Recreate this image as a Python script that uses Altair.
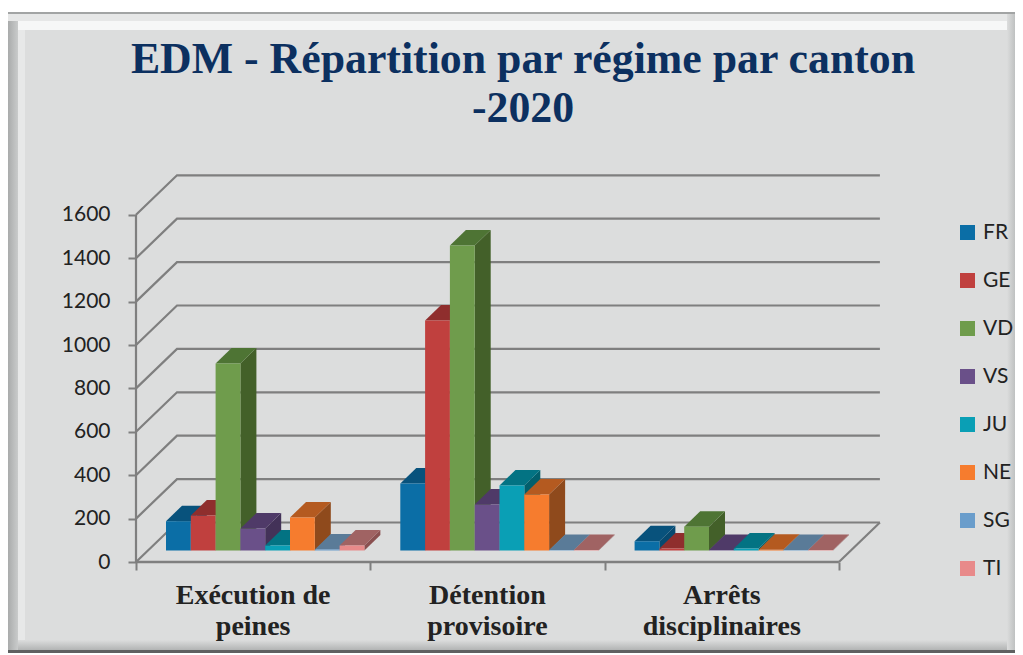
import altair as alt
import pandas as pd

title_lines = ["EDM - Répartition par régime par canton", "-2020"]
groups = ["Exécution de\npeines", "Détention\nprovisoire", "Arrêts\ndisciplinaires"]
series = ["FR", "GE", "VD", "VS", "JU", "NE", "SG", "TI"]
execution = [135, 161, 862, 101, 23, 152, 5, 23]
detention = [309, 1060, 1405, 212, 300, 258, 2, 2]
arrets = [43, 9, 110, 2, 9, 3, 2, 2]
y_ticks = [0, 200, 400, 600, 800, 1000, 1200, 1400, 1600]
front_colors = ["#0b6ea6", "#c0403e", "#6f9c4c", "#6a5089", "#0a9fb5", "#f67c2e", "#6a9dcb", "#e88a8a"]
top_colors = ["#08527c", "#8f2e2d", "#4e7434", "#4f3a68", "#037383", "#b45a20", "#5a7b98", "#a06363"]
side_colors = ["#07496f", "#7a2726", "#436029", "#433258", "#025f6c", "#8f4a1c", "#4a667e", "#8a5050"]

# projection constants, in axis units
PX_X, PX_Y = 234.3, 0.217       # pixels per group, pixels per count
PLOT_W, PLOT_H = 744, 388
OX, OY = 136, 174               # plot origin on the page
WALL_DX, WALL_DY = 41 / PX_X, 39.5 / PX_Y
BASE_DX, BASE_DY = 30 / PX_X, 11.5 / PX_Y
BAR_W = 24.8 / PX_X
BAR_DX, BAR_DY = 16 / PX_X, 15.5 / PX_Y

xs = alt.Scale(domain=[0, PLOT_W / PX_X], nice=False, zero=False)
ys = alt.Scale(domain=[0, PLOT_H / PX_Y], nice=False, zero=False)
GRID = "#7f7f7f"

front, tops, sides = [], [], []
for g, vals in enumerate([execution, detention, arrets]):
    for s, v in enumerate(vals):
        x0 = g + BASE_DX + s * BAR_W
        x1 = x0 + BAR_W
        lo, hi = BASE_DY, BASE_DY + v
        key = f"{g}-{s}"
        front.append(dict(x=x0, x2=x1, y=lo, y2=hi, s=series[s]))
        for px, a, b in [(x0, hi, hi), (x0 + BAR_DX, hi, hi + BAR_DY),
                         (x1, hi, hi + BAR_DY), (x1 + BAR_DX, hi + BAR_DY, hi + BAR_DY)]:
            tops.append(dict(x=px, y=a, y2=b, k=key, c=top_colors[s]))
        for px, a, b in [(x1, lo, hi), (x1 + BAR_DX, lo + BAR_DY, hi + BAR_DY)]:
            sides.append(dict(x=px, y=a, y2=b, k=key, c=side_colors[s]))

grid = []
for v in y_ticks:
    grid += [dict(x=0, y=v, k=v, o=0), dict(x=WALL_DX, y=v + WALL_DY, k=v, o=1),
             dict(x=3 + WALL_DX, y=v + WALL_DY, k=v, o=2)]
grid += [dict(x=3, y=0, k=-1, o=0), dict(x=3 + WALL_DX, y=WALL_DY, k=-1, o=1)]


def band(x0, x1, y0, y1, fill):
    return alt.Chart(alt.Data(values=[{"a": 1}])).mark_rect(fill=fill, stroke=None).encode(
        x=alt.value(x0 - OX), x2=alt.value(x1 - OX), y=alt.value(y0 - OY), y2=alt.value(y1 - OY))


def grad(c0, c1, horizontal=True):
    return alt.Gradient(gradient="linear", x1=0, y1=0, x2=1 if horizontal else 0, y2=0 if horizontal else 1,
                        stops=[alt.GradientStop(offset=0, color=c0), alt.GradientStop(offset=1, color=c1)])


BOTTOM = 653  # last page row of the canvas
RIGHT = 1015  # last page column of the canvas
frame = [
    band(6, RIGHT, 12, BOTTOM, "#dcdddd"),
    band(6, RIGHT, 21, 30, "#f6f7f7"),
    band(6, RIGHT, 14, 21, "#e6e7e7"),
    band(6, RIGHT, BOTTOM - 13, BOTTOM - 3, grad("#dcdddd", "#b2b4b4", False)),
    band(6, RIGHT, BOTTOM - 3, BOTTOM, "#5f6161"),
    band(RIGHT - 8, RIGHT, 14, BOTTOM - 3, grad("#dcdddd", "#bfc1c1")),
    band(18, 25, 30, BOTTOM - 13, "#e7e8e8"),
    band(6, 18, 21, BOTTOM - 3, grad("#a3a5a5", "#c9cbcb")),
    band(6, RIGHT, 12, 14, "#a2a4a4"),
]

x_axis = alt.Axis(values=[0, 1, 2, 3], labels=False, grid=False, domain=False, tickColor=GRID, tickSize=8,
                  tickWidth=2, zindex=1, title=None)
y_axis = alt.Axis(values=y_ticks, grid=False, domain=False, tickColor=GRID, tickSize=8, tickWidth=2, labelPadding=18,
                  labelFont="Lato", labelFontSize=21, labelColor="#222222", labelOverlap=False, zindex=1, title=None,
                  format="d")
X = alt.X("x:Q", scale=xs, axis=x_axis)
Y = alt.Y("y:Q", scale=ys, axis=y_axis, stack=None)

grid_lines = alt.Chart(pd.DataFrame(grid)).mark_line(color=GRID, strokeWidth=2.2, interpolate="linear").encode(
    x=X, y=Y, detail="k:N", order="o:Q")
front_wall = alt.Chart(pd.DataFrame({"x": [0, 0], "y": [0, 1600]})).mark_line(color=GRID, strokeWidth=2.2).encode(
    x=X, y=Y, order="y:Q")
front_floor = alt.Chart(pd.DataFrame({"x": [0, 3], "y": [0, 0]})).mark_line(color=GRID, strokeWidth=2.6).encode(
    x=X, y=Y)

side_marks = alt.Chart(pd.DataFrame(sides)).mark_area(opacity=1, line=False).encode(
    x=X, y=Y, y2="y2:Q", detail="k:N", fill=alt.Fill("c:N", scale=None, legend=None))
top_marks = alt.Chart(pd.DataFrame(tops)).mark_area(opacity=1, line=False).encode(
    x=X, y=Y, y2="y2:Q", detail="k:N", fill=alt.Fill("c:N", scale=None, legend=None))
front_marks = alt.Chart(pd.DataFrame(front)).mark_rect(opacity=1).encode(
    x=X, x2="x2:Q", y=Y, y2="y2:Q",
    color=alt.Color("s:N", scale=alt.Scale(domain=series, range=front_colors), title=None,
                    legend=alt.Legend(orient="none", legendX=957 - OX, legendY=222 - OY, symbolType="square",
                                      symbolSize=225, symbolStrokeWidth=0, symbolOpacity=1, labelFont="Lato",
                                      labelFontSize=21, labelColor="#222222", rowPadding=26, labelOffset=5)))

labels = alt.Chart(pd.DataFrame({"x": [0.5, 1.5, 2.5], "g": groups})).mark_text(
    font="Liberation Serif", fontWeight="bold", fontSize=28, color="#222222", lineBreak="\n", lineHeight=30.5,
    baseline="middle", align="center").encode(x=X, y=alt.value(596 - OY), text="g:N")

chart = alt.layer(*frame, grid_lines, front_wall, front_floor, side_marks, top_marks, front_marks, labels).properties(
    width=PLOT_W, height=PLOT_H,
    padding={"left": 128, "top": 166, "right": RIGHT - 8 - 128 - PLOT_W, "bottom": BOTTOM - 8 - 166 - PLOT_H},
    autosize=alt.AutoSizeParams(type="none"),
    background="#ffffff",
    title=alt.TitleParams(text=title_lines, font="Liberation Serif", fontWeight="bold", fontSize=43.8,
                          color="#0c3060", lineHeight=49, anchor="middle", frame="group", dx=15, dy=119, offset=0),
).configure_view(stroke=None)

chart.save("out.html", embed_options={"renderer": "svg", "actions": False})
